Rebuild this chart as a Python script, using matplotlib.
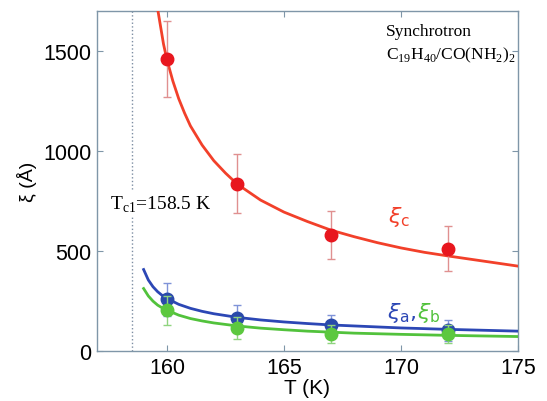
import matplotlib
matplotlib.use("Agg")
from matplotlib import pyplot as plt

# measured points
temps = [160, 163, 167, 172]
xi_c = [1458, 838, 580, 513]
xi_c_err = [190, 145, 121, 114]
xi_a = [260, 165, 130, 105]
xi_a_err = [83, 65, 52, 52]
xi_b = [205, 118, 88, 85]
xi_b_err = [73, 55, 45, 45]

# fit curves
fit_c_t = [159.55, 159.7, 159.85, 160.0, 160.25, 160.5, 160.75, 161.0, 161.5, 162.0,
           162.5, 163.0, 164.0, 165.0, 166.0, 167.0, 168.0, 169.0, 170.0, 171.0,
           172.0, 173.0, 174.0, 175.0]
fit_c = [1745, 1640, 1535, 1455, 1350, 1262, 1190, 1126, 1030, 952,
         890, 835, 755, 695, 648, 605, 572, 542, 516, 494,
         476, 459, 442, 425]
fit_ab_t = [159.0, 159.2, 159.4, 159.6, 159.8, 160.0, 160.5, 161.0, 161.5, 162.0,
            163.0, 164.0, 165.0, 166.0, 167.0, 168.0, 170.0, 172.0, 175.0]
fit_a = [408, 356, 322, 297, 278, 263, 234, 214, 199, 187,
         169, 156, 146, 138, 131, 126, 116, 109, 100]
fit_b = [313, 276, 250, 230, 216, 205, 180, 163, 151, 141,
         126, 115, 107, 100, 95, 90, 84, 79, 73]

tc1 = 158.5

RED = "#f2402a"
RED_PT = "#e8161e"
RED_ERR = "#e09090"
BLUE = "#2c47b5"
BLUE_PT = "#2a4aaa"
BLUE_ERR = "#7f93d8"
GREEN = "#52c23c"
GREEN_PT = "#5cc83f"
GREEN_ERR = "#8fd47f"
SPINE = "#7f96a8"

fig = plt.figure(figsize=(5.47, 4.02), dpi=100)
ax = fig.add_axes([0.177, 0.124, 0.770, 0.846])

ax.axvline(tc1, color="#7d8ea3", linestyle=":", linewidth=1.0, zorder=1)

# curves
ax.plot(fit_c_t, fit_c, color=RED, linewidth=2.0, zorder=3)
ax.plot(fit_ab_t, fit_a, color=BLUE, linewidth=2.0, zorder=3)
ax.plot(fit_ab_t, fit_b, color=GREEN, linewidth=2.0, zorder=3)

# points with error bars
ax.errorbar(temps, xi_c, yerr=xi_c_err, fmt="o", color=RED_PT, ecolor=RED_ERR,
            markersize=9, elinewidth=1.0, capsize=3, capthick=1.0, zorder=4)
ax.errorbar(temps, xi_a, yerr=xi_a_err, fmt="o", color=BLUE_PT, ecolor=BLUE_ERR,
            markersize=9, elinewidth=1.0, capsize=3, capthick=1.0, zorder=4)
ax.errorbar(temps, xi_b, yerr=xi_b_err, fmt="o", color=GREEN_PT, ecolor=GREEN_ERR,
            markersize=9, elinewidth=1.0, capsize=3, capthick=1.0, zorder=5)

ax.set_xlim(157, 175)
ax.set_ylim(0, 1700)
ax.set_xticks([160, 165, 170, 175])
ax.set_yticks([0, 500, 1000, 1500])

for sp in ax.spines.values():
    sp.set_color(SPINE)
    sp.set_linewidth(1.0)
ax.tick_params(direction="in", length=4, width=0.8, color=SPINE,
               top=True, right=True, labelsize=15.5, pad=4)
for lab in ax.get_xticklabels() + ax.get_yticklabels():
    lab.set_family("Liberation Sans")

ax.set_xlabel("T (K)", fontsize=15, family="Liberation Sans", labelpad=0)
ax.set_ylabel("ξ (Å)", fontsize=14, family="Liberation Sans", labelpad=4,
              bbox=dict(facecolor="white", edgecolor="none", pad=1))

ax.text(157.55, 735, r"T$_{\mathregular{c1}}$=158.5 K", fontsize=14,
        family="Liberation Serif", va="center", ha="left", zorder=6,
        bbox=dict(facecolor="white", edgecolor="none", pad=2))
ax.text(0.686, 0.965, "Synchrotron", transform=ax.transAxes, fontsize=12.5,
        family="Liberation Serif", va="top", ha="left")
ax.text(0.686, 0.90, r"C$_{\mathregular{19}}$H$_{\mathregular{40}}$/CO(NH$_{\mathregular{2}}$)$_{\mathregular{2}}$",
        transform=ax.transAxes, fontsize=12.5, family="Liberation Serif",
        va="top", ha="left")

ax.text(169.45, 675, r"$\xi_\mathregular{c}$", color=RED, fontsize=16,
        va="center", ha="left")
ax.text(169.4, 195, r"$\xi_\mathregular{a}$,", color=BLUE, fontsize=16,
        va="center", ha="left")
ax.text(170.7, 195, r"$\xi_\mathregular{b}$", color=GREEN, fontsize=16,
        va="center", ha="left")

fig.savefig("out.png", dpi=100, facecolor="white")
plt.close(fig)
